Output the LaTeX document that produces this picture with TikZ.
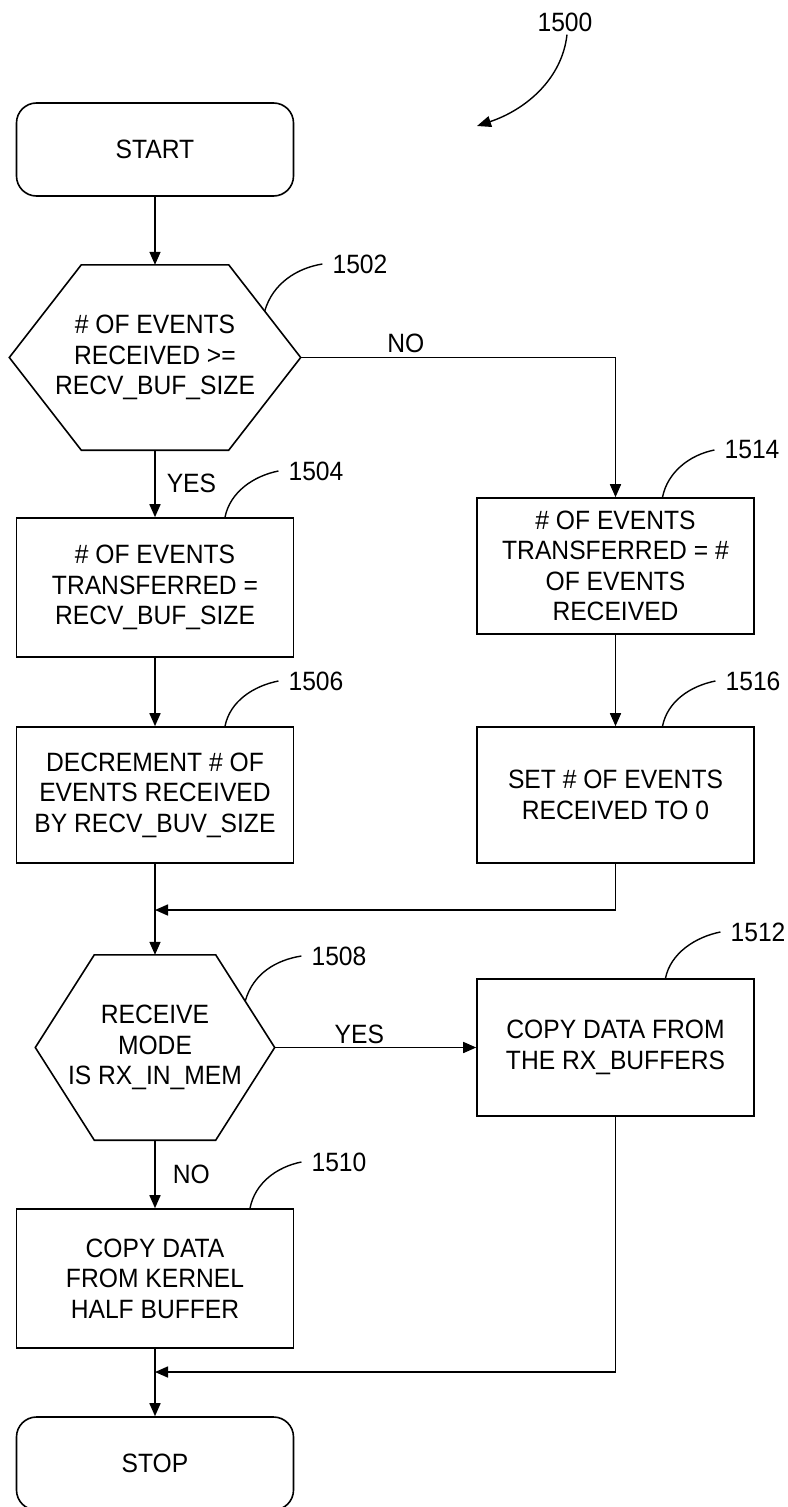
\documentclass[tikz,border=0pt]{standalone}
\usepackage{fontspec}
\setmainfont{Liberation Sans}[FakeStretch=0.93]
\usetikzlibrary{arrows.meta,calc}
\begin{document}
\begin{tikzpicture}[x=1pt,y=-1pt,
  every node/.style={font=\fontsize{26.5}{30.5}\selectfont, inner sep=0pt},
  line/.style={line width=1.6pt},
  arr/.style={line width=1.6pt, -{Triangle[length=13pt,width=11pt]}},
  leader/.style={line width=1.4pt},
  proc/.style={draw, line width=1.6pt, minimum width=277pt, align=center},
  term/.style={proc, rounded corners=20pt, minimum height=93pt},
  decision/.style={align=center, minimum height=185pt},
  refnum/.style={inner xsep=10pt, inner ysep=0pt}
]
\useasboundingbox (0,0) rectangle (787,1507);

% nodes
\node[term] (start) at (155,149.5) {START};
\node[decision, minimum width=291pt] (d1) at (155,357.5) {\# OF EVENTS\\RECEIVED >=\\RECV\_BUF\_SIZE};
\coordinate (d1nw) at ($(d1.north west)+(72,0)$);
\coordinate (d1ne) at ($(d1.north east)+(-72,0)$);
\coordinate (d1se) at ($(d1.south east)+(-72,0)$);
\coordinate (d1sw) at ($(d1.south west)+(72,0)$);
\draw[line] (d1nw) -- (d1ne) -- (d1.east) -- (d1se) -- (d1sw) -- (d1.west) -- cycle;

\node[proc, minimum height=139pt] (b1504) at (155,587.5) {\# OF EVENTS\\TRANSFERRED =\\RECV\_BUF\_SIZE};
\node[proc, minimum height=136pt] (b1506) at (155,795) {DECREMENT \# OF\\EVENTS RECEIVED\\BY RECV\_BUV\_SIZE};
\node[proc, minimum height=136pt] (b1514) at (615.5,566) {\# OF EVENTS\\TRANSFERRED = \#\\OF EVENTS\\RECEIVED};
\node[proc, minimum height=136pt] (b1516) at (615.5,795) {SET \# OF EVENTS\\RECEIVED TO 0};

\node[decision, minimum width=239pt] (d2) at (155,1047.5) {RECEIVE\\MODE\\IS RX\_IN\_MEM};
\coordinate (d2nw) at ($(d2.north west)+(59,0)$);
\coordinate (d2ne) at ($(d2.north east)+(-59,0)$);
\coordinate (d2se) at ($(d2.south east)+(-59,0)$);
\coordinate (d2sw) at ($(d2.south west)+(59,0)$);
\draw[line] (d2nw) -- (d2ne) -- (d2.east) -- (d2se) -- (d2sw) -- (d2.west) -- cycle;

\node[proc, minimum height=137pt] (b1512) at (615.5,1047.5) {COPY DATA FROM\\THE RX\_BUFFERS};
\node[proc, minimum height=139pt] (b1510) at (155,1278.5) {COPY DATA\\FROM KERNEL\\HALF BUFFER};
\node[term] (stop) at (155,1463.5) {STOP};

% reference numerals
\node[refnum] (l1500) at (565,22) {1500};
\node[refnum] (l1502) at (360,264) {1502};
\node[refnum] (l1504) at (316,471) {1504};
\node[refnum] (l1506) at (316,681) {1506};
\node[refnum] (l1514) at (752,450) {1514};
\node[refnum] (l1516) at (753,681) {1516};
\node[refnum] (l1508) at (339,956) {1508};
\node[refnum] (l1512) at (758,932) {1512};
\node[refnum] (l1510) at (339,1162) {1510};
\coordinate (fig) at (477,126);

% connectors
\draw[arr] (start) -- (d1);
\draw[arr] (d1) -- node[right=11pt] {YES} (b1504);
\draw[arr] (d1.east) -| node[pos=0.167, above=4pt] {NO} (b1514.north);
\draw[arr] (b1504) -- (b1506);
\draw[arr] (b1514) -- (b1516);
\coordinate (j1) at (155,910);
\draw[arr] (b1506.south) -- (d2.north);
\draw[arr] (b1516.south) |- (j1);
\draw[arr] (d2.east) -- node[pos=0.42, above=3pt] {YES} (b1512.west);
\draw[arr] (d2) -- node[right=17pt] {NO} (b1510);
\coordinate (j2) at (155,1372);
\draw[arr] (b1512.south) |- (j2);
\draw[arr] (b1510) -- (stop);

% leaders
\draw[leader] ($(d1ne)!0.5!(d1.east)$) .. controls +(8,-28) and +(-25,4) .. (l1502.west);
\draw[leader] ($(b1504.north)+(70,0)$) .. controls +(5,-25) and +(-25,5) .. (l1504.west);
\draw[leader] ($(b1506.north)+(70,0)$) .. controls +(5,-25) and +(-25,5) .. (l1506.west);
\draw[leader] ($(b1514.north)+(47,0)$) .. controls +(5,-25) and +(-25,5) .. (l1514.west);
\draw[leader] ($(b1516.north)+(47,0)$) .. controls +(5,-25) and +(-25,5) .. (l1516.west);
\draw[leader] ($(d2ne)!0.5!(d2.east)$) .. controls +(8,-28) and +(-25,4) .. (l1508.west);
\draw[leader] ($(b1512.north)+(50,0)$) .. controls +(5,-25) and +(-25,5) .. (l1512.west);
\draw[leader] ($(b1510.north)+(95,0)$) .. controls +(5,-25) and +(-25,5) .. (l1510.west);
\draw[leader, -{Triangle[length=14pt,width=11pt]}] ($(l1500.south)+(2,3)$) .. controls +(-5,45) and +(48,-16) .. (fig);
\end{tikzpicture}
\end{document}
